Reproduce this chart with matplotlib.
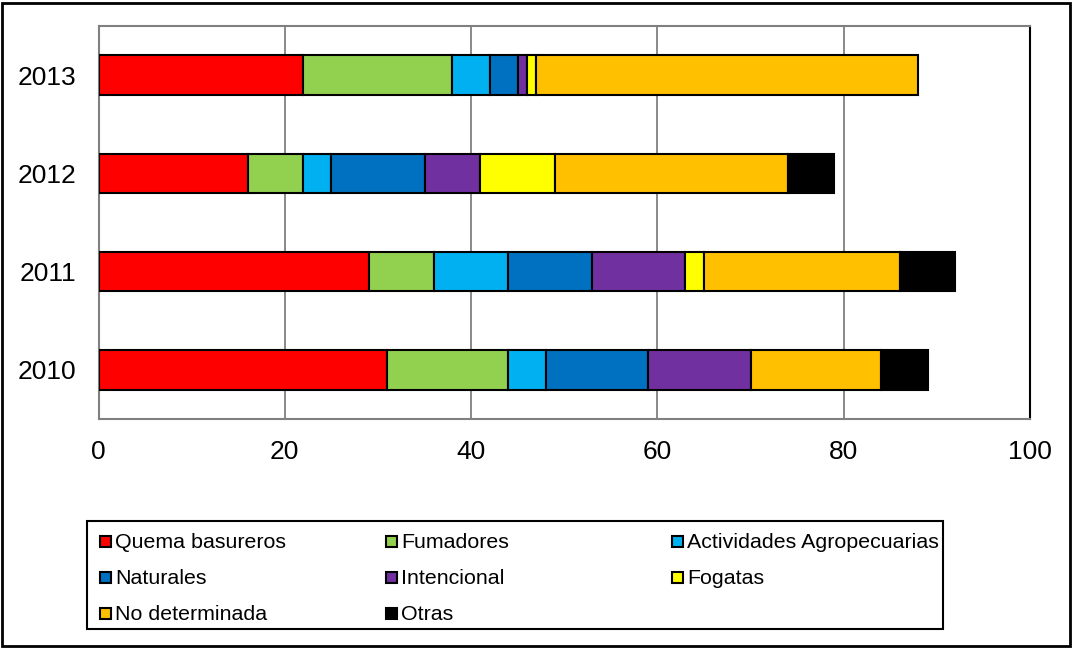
import matplotlib
matplotlib.use("Agg")
import matplotlib.pyplot as plt
from matplotlib.patches import Rectangle
import numpy as np

plt.rcParams['font.family'] = ['Liberation Sans', 'DejaVu Sans']

years = ["2010", "2011", "2012", "2013"]
quema_basureros = [31, 29, 16, 22]
fumadores = [13, 7, 6, 16]
actividades_agro = [4, 8, 3, 4]
naturales = [11, 9, 10, 3]
intencional = [11, 10, 6, 1]
fogatas = [0, 2, 8, 1]
no_determinada = [14, 21, 25, 41]
otras = [5, 6, 5, 0]

series = [
    ("Quema basureros", quema_basureros, "#FF0000"),
    ("Fumadores", fumadores, "#92D050"),
    ("Actividades Agropecuarias", actividades_agro, "#00B0F0"),
    ("Naturales", naturales, "#0070C0"),
    ("Intencional", intencional, "#7030A0"),
    ("Fogatas", fogatas, "#FFFF00"),
    ("No determinada", no_determinada, "#FFC000"),
    ("Otras", otras, "#000000"),
]

W, H = 1073, 648
fig = plt.figure(figsize=(W / 100, H / 100), dpi=100)
ax = fig.add_axes([98.5 / W, 1 - 419 / H, (1030 - 98.5) / W, (419 - 26) / H])

y = np.arange(len(years))
left = np.zeros(len(years))
for name, vals, color in series:
    vals = np.array(vals, dtype=float)
    mask = vals > 0
    ax.barh(y[mask], vals[mask], left=left[mask], height=0.40, color=color,
            edgecolor="black", linewidth=1.5, zorder=3)
    left += vals

ax.set_xlim(0, 100)
ax.set_ylim(-0.5, 3.5)
ax.set_xticks([0, 20, 40, 60, 80, 100])
ax.set_yticks(y)
ax.set_yticklabels(years)
ax.tick_params(axis="both", length=0, labelsize=19)
ax.tick_params(axis="x", pad=15)
ax.tick_params(axis="y", pad=16)
ax.xaxis.grid(True, color="#808080", linewidth=1.3, zorder=0)
for side in ["left", "bottom", "top"]:
    ax.spines[side].set_color("#808080")
    ax.spines[side].set_linewidth(1.5)
ax.spines["right"].set_color("black")
ax.spines["right"].set_linewidth(1.5)

# Legend: three equal-width columns, filled row by row
def fx(px):
    return px / W

def fy(py):
    return 1 - py / H

fig.add_artist(Rectangle((fx(87), fy(629)), fx(943) - fx(87), fy(521) - fy(629),
                         transform=fig.transFigure, fill=False,
                         edgecolor="black", linewidth=1.5))
col_x = [100, 386, 672]
row_y = [541, 577, 613]
sw = 11
for i, (name, _, color) in enumerate(series):
    cx = col_x[i % 3]
    cy = row_y[i // 3]
    fig.add_artist(Rectangle((fx(cx), fy(cy + sw / 2)), sw / W, sw / H,
                             transform=fig.transFigure, facecolor=color,
                             edgecolor="black", linewidth=1.5))
    fig.text(fx(cx + sw + 4), fy(cy), name, fontsize=15.4,
             ha="left", va="center_baseline")

fig.add_artist(Rectangle((2 / W, 2 / H), (W - 5) / W, (H - 5) / H,
                         transform=fig.transFigure, fill=False,
                         edgecolor="black", linewidth=2))

fig.savefig("out.png", dpi=100)
